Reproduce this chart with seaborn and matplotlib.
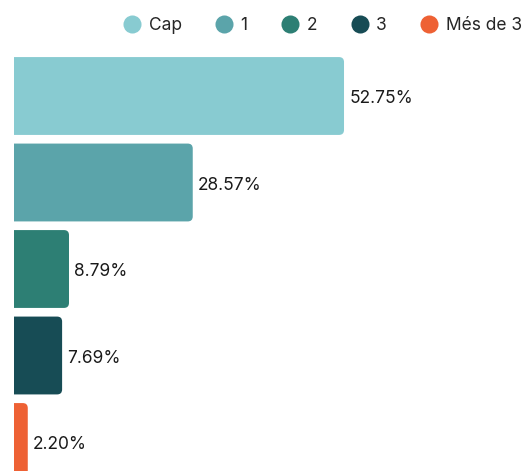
import matplotlib
matplotlib.use("Agg")
import matplotlib.pyplot as plt
import seaborn as sns
import pandas as pd
from matplotlib.patches import FancyBboxPatch
from matplotlib.lines import Line2D

categories = ["Cap", "1", "2", "3", "Més de 3"]
values = [52.75, 28.57, 8.79, 7.69, 2.20]
colors = ["#88CBD1", "#5BA4AA", "#2D7F74", "#174C55", "#EE6134"]

sns.set_theme(style="white")
plt.rcParams['font.family'] = ['Inter', 'DejaVu Sans']

W, H = 524, 471
fig = plt.figure(figsize=(W / 100, H / 100), dpi=100)
top_px, bot_px = 52.75, 485.25
ax = fig.add_axes([14 / W, 1 - bot_px / H, 500.5 / W, (bot_px - top_px) / H])

df = pd.DataFrame({"cat": categories, "val": values})
sns.barplot(data=df, y="cat", x="val", hue="cat", palette=colors, orient="h",
            width=0.9, legend=False, saturation=1, ax=ax)
ax.set_xlim(0, 80)
ax.set_ylim(4.5, -0.5)

# replace bars with rounded ones
px_per_x = 500.5 / 80
px_per_y = (bot_px - top_px) / 5
aspect = px_per_x / px_per_y
for p in list(ax.patches):
    x0, y0 = p.get_x(), p.get_y()
    w, h = p.get_width(), p.get_height()
    fc = p.get_facecolor()
    p.set_visible(False)
    fb = FancyBboxPatch((x0 - 3, y0), w + 3, h,
                        boxstyle="round,pad=0,rounding_size=0.8",
                        mutation_aspect=aspect, facecolor=fc, edgecolor="none",
                        clip_on=True)
    ax.add_patch(fb)
    fb.set_clip_path(ax.patch)

for i, v in enumerate(values):
    ax.text(v + 0.85, i + 0.03, f"{v:.2f}%", va="center", ha="left",
            fontsize=12.5, color="#1a1a1a")

ax.set_xlabel("")
ax.set_ylabel("")
ax.set_xticks([])
ax.set_yticks([])
for s in ax.spines.values():
    s.set_visible(False)

handles = [Line2D([0], [0], marker="o", linestyle="none", markersize=13,
                  markerfacecolor=c, markeredgecolor="none") for c in colors]
fig.legend(handles, categories, ncol=5, loc="upper right",
           bbox_to_anchor=(522 / W, 1 - 17 / H), frameon=False, fontsize=12.5,
           handletextpad=0.45, columnspacing=1.95, borderaxespad=0,
           borderpad=0, handlelength=1.0)

fig.savefig("out.png", dpi=100)
